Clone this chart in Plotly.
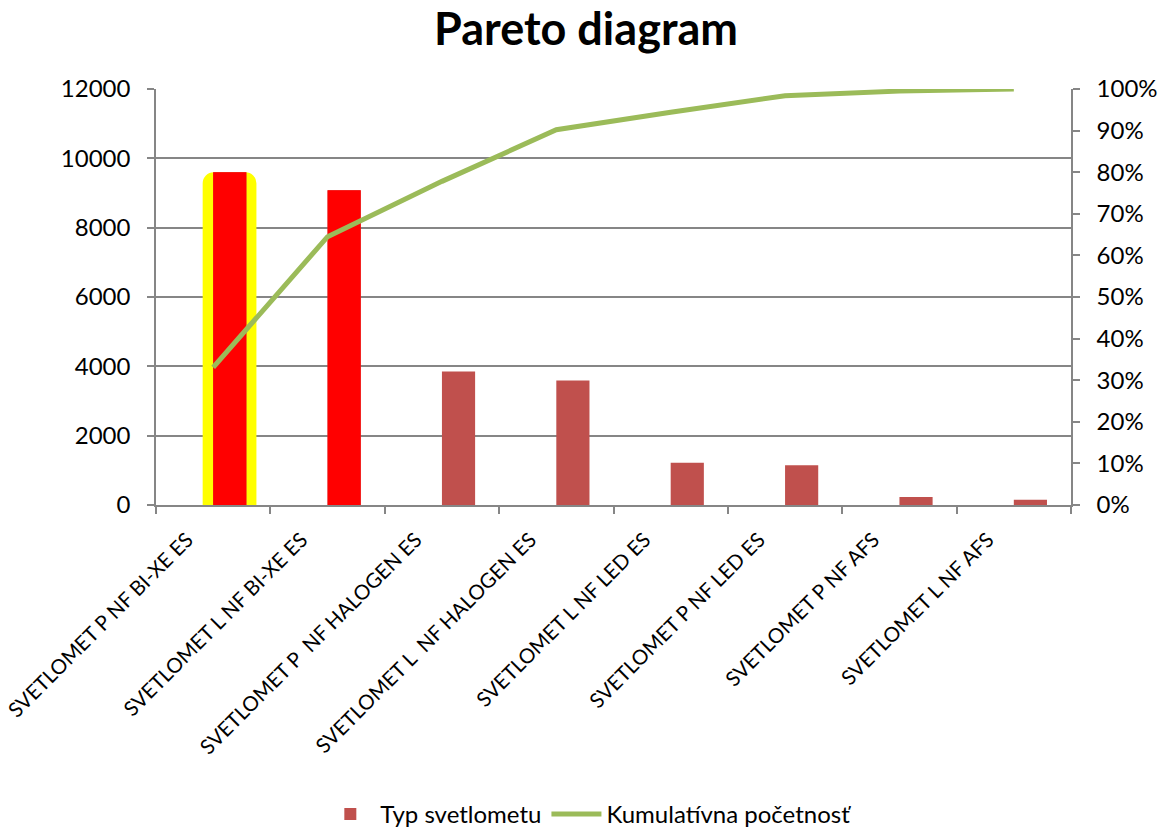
import plotly.graph_objects as go

categories = [
    "SVETLOMET P NF BI-XE ES",
    "SVETLOMET L NF BI-XE ES",
    "SVETLOMET P\u00a0 NF HALOGEN ES",
    "SVETLOMET L\u00a0 NF HALOGEN ES",
    "SVETLOMET L NF LED ES",
    "SVETLOMET P NF LED ES",
    "SVETLOMET P NF AFS",
    "SVETLOMET L NF AFS",
]
counts = [9600, 9080, 3850, 3590, 1220, 1150, 230, 150]
cumulative_pct = [33.1, 64.5, 77.8, 90.2, 94.4, 98.4, 99.5, 100.0]
left_ticks = [0, 2000, 4000, 6000, 8000, 10000, 12000]
left_labels = ["0", "2000", "4000", "6000", "8000", "10000", "12000"]
right_ticks = [0, 10, 20, 30, 40, 50, 60, 70, 80, 90, 100]
right_labels = ["0%", "10%", "20%", "30%", "40%", "50%", "60%", "70%", "80%", "90%", "100%"]

FONT = "Lato, 'Open Sans', sans-serif"
GRID = "#868686"

fig = go.Figure()

# yellow highlight behind the first bar
fig.add_trace(go.Bar(
    x=categories[:1], y=counts[:1],
    offset=-0.092, width=0.47,
    marker=dict(color="#FFFF00", line=dict(width=0), cornerradius=11),
    showlegend=False, hoverinfo="skip",
))
# main bars
fig.add_trace(go.Bar(
    x=categories, y=counts, name="Typ svetlometu",
    offset=0.0, width=0.29,
    marker=dict(color="#C0504D", line=dict(width=0)),
))
# highlighted bars
fig.add_trace(go.Bar(
    x=categories[:2], y=counts[:2],
    offset=0.0, width=0.29,
    marker=dict(color="#FF0000", line=dict(width=0)),
    showlegend=False,
))
# cumulative line
fig.add_trace(go.Scatter(
    x=categories, y=cumulative_pct, name="Kumulatívna početnosť",
    mode="lines", line=dict(color="#9BBB59", width=5),
    yaxis="y2",
))

fig.update_layout(
    width=1165, height=837,
    margin=dict(l=156, r=94, t=89, b=332, autoexpand=False),
    paper_bgcolor="white", plot_bgcolor="white",
    barmode="overlay",
    font=dict(family=FONT, size=24, color="#000000"),
    title=dict(text="<b>Pareto diagram</b>", x=0.503, xref="container", xanchor="center",
               y=0.965, yref="container", yanchor="middle",
               font=dict(family=FONT, size=45, color="#000000")),
    xaxis=dict(
        type="category", tickangle=-45, tickson="boundaries",
        ticks="outside", ticklen=7, tickcolor=GRID, tickwidth=1.5,
        showline=True, linecolor=GRID, linewidth=1.5,
        showgrid=False, tickfont=dict(size=20.5), automargin=False,
        range=[-0.5, 7.5], ticklabelshift=-26, ticklabelstandoff=13,
    ),
    yaxis=dict(
        range=[0, 12000], tickvals=left_ticks, ticktext=left_labels,
        ticks="outside", ticklen=7, tickcolor=GRID, tickwidth=1.5,
        showline=True, linecolor=GRID, linewidth=1.5,
        showgrid=True, gridcolor=GRID, gridwidth=1.5,
        zeroline=False, ticklabelstandoff=12, automargin=False,
    ),
    yaxis2=dict(
        range=[0, 100], tickvals=right_ticks, ticktext=right_labels,
        overlaying="y", side="right",
        ticks="outside", ticklen=7, tickcolor=GRID, tickwidth=1.5,
        showline=True, linecolor=GRID, linewidth=1.5,
        showgrid=False, zeroline=False, ticklabelstandoff=12, automargin=False,
    ),
    legend=dict(
        orientation="h", xref="container", yref="container",
        x=0.505, xanchor="center", y=0.0, yanchor="bottom",
        font=dict(size=24), itemwidth=50, traceorder="normal",
    ),
)

fig.write_html("out.html")
